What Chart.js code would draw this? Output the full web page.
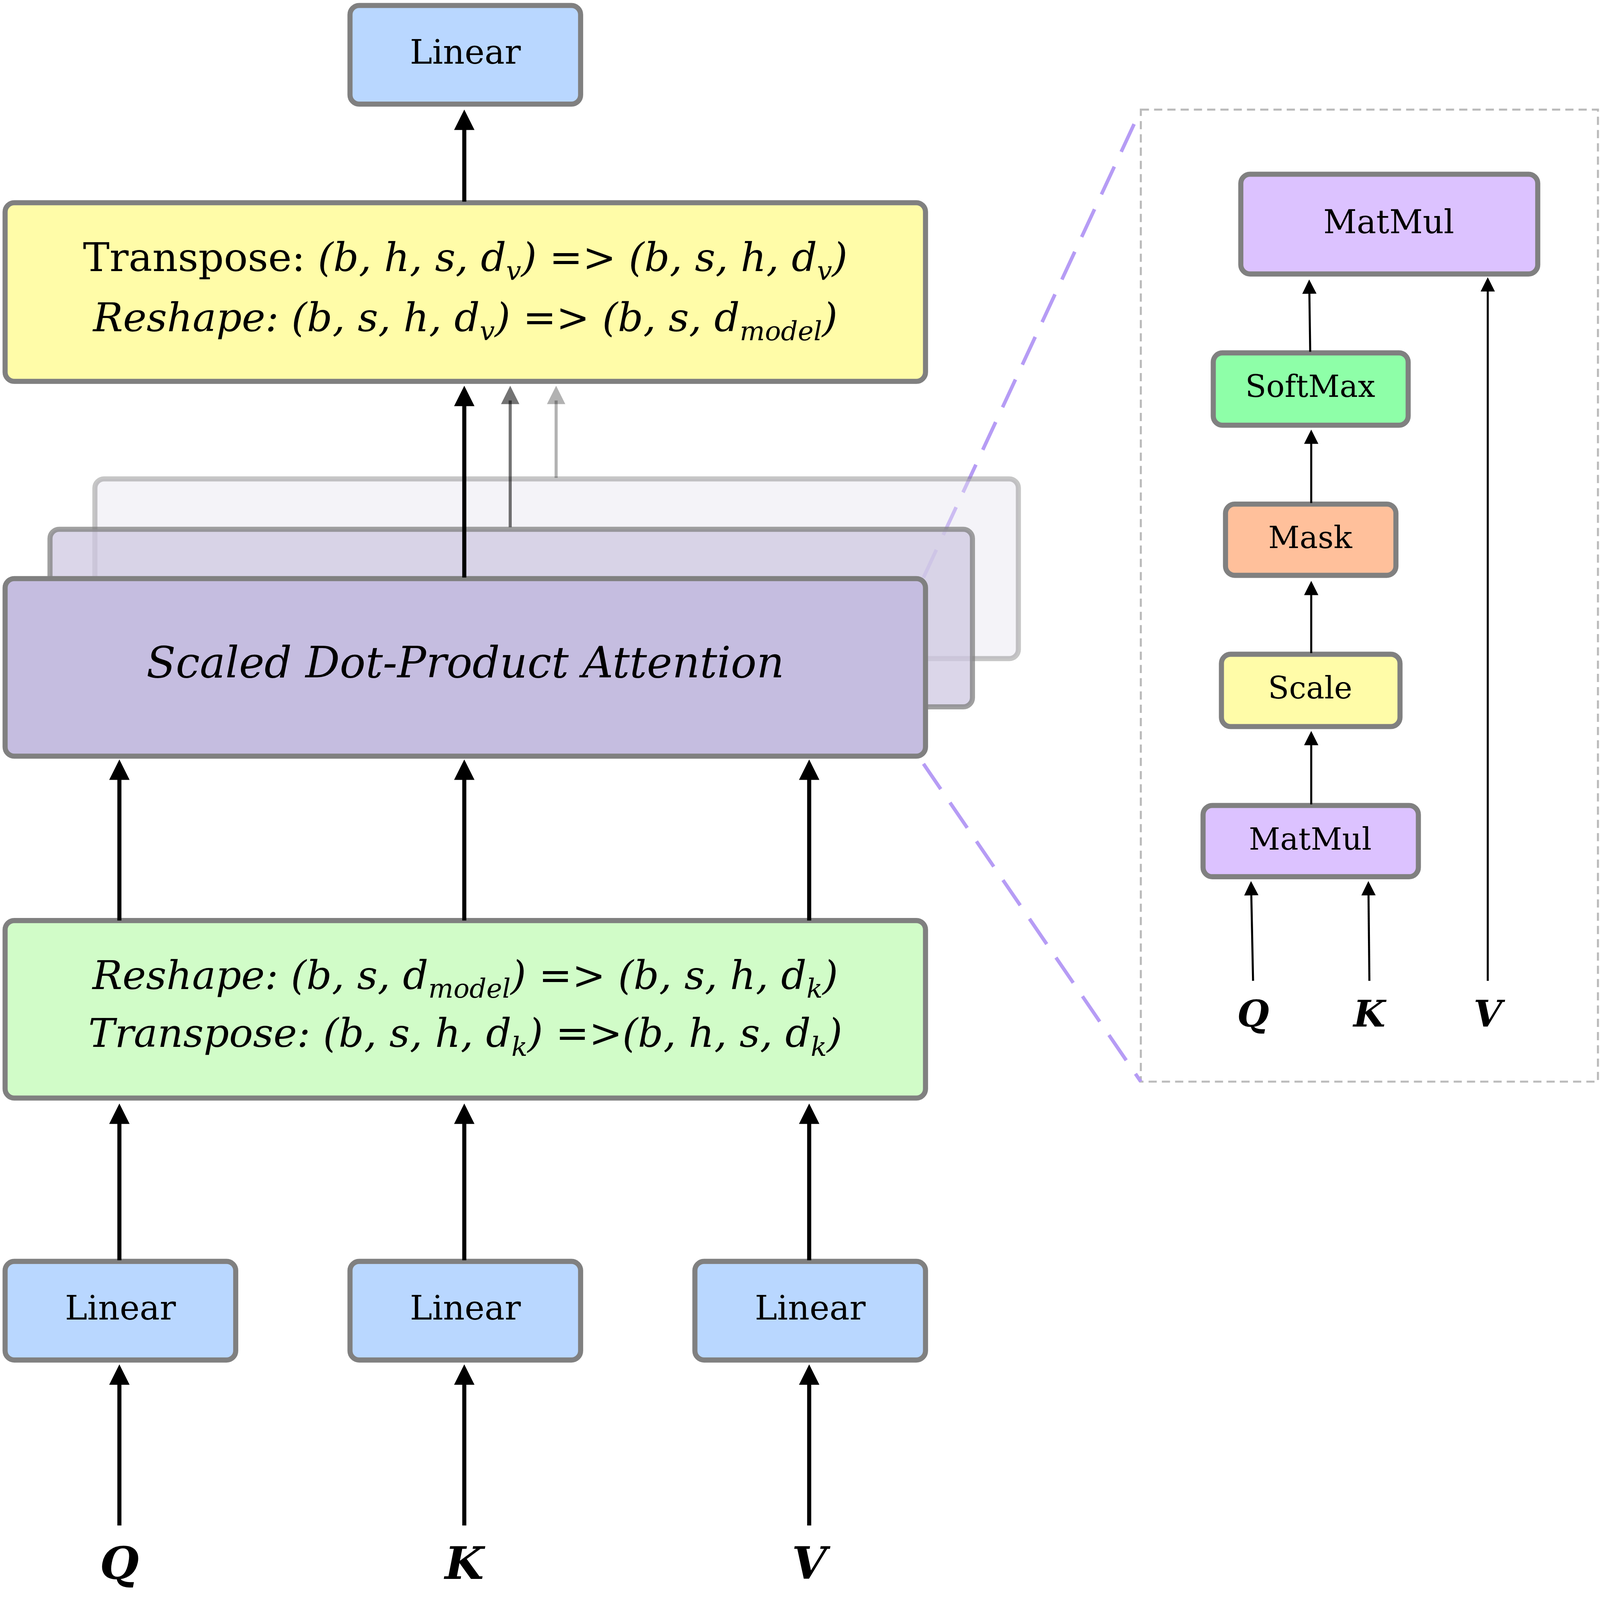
<!DOCTYPE html>
<html>
<head>
<meta charset="utf-8">
<script src="https://cdn.jsdelivr.net/npm/chart.js@4"></script>
<style>
  html, body { margin: 0; padding: 0; background: #fff; overflow: hidden; }
  #wrap { width: 100vw; height: 100vh; }
</style>
</head>
<body>
<div id="wrap"><canvas id="c"></canvas></div>
<script>
// Diagram space: 1568 x 1460 units, y grows downwards
const SPACE_W = 1568;
const SPACE_H = 1460;

// Boxes: [x0, y0, x1, y1, fill, border, borderAlpha]
const boxRects = [
    [93, 437, 998, 601, '#e6e4f0', '#808080', 0.45],
    [49, 483, 953, 645, '#cfc8e2', '#808080', 0.75],
    [5, 528, 907, 690, '#c5bde0', '#808080', 1],
    [343, 5, 569, 95, '#b9d7ff', '#808080', 1],
    [5, 185, 907, 348, '#fffca8', '#808080', 1],
    [5, 840, 907, 1002, '#d1fcc8', '#808080', 1],
    [5, 1151, 231, 1241, '#b9d7ff', '#808080', 1],
    [343, 1151, 569, 1241, '#b9d7ff', '#808080', 1],
    [681, 1151, 907, 1241, '#b9d7ff', '#808080', 1],
    [1216, 159, 1507, 250, '#dcc2ff', '#808080', 1],
    [1189, 322, 1380, 388, '#8effa8', '#808080', 1],
    [1201, 460, 1368, 525, '#ffc09b', '#808080', 1],
    [1197, 597, 1372, 663, '#fffca8', '#808080', 1],
    [1179, 735, 1390, 800, '#dcc2ff', '#808080', 1]
];

// Plain labels: [text, x, y, size, style]
const plainLabels = [
    ['Linear', 456, 50, 33, ''],
    ['Linear', 118, 1196, 33, ''],
    ['Linear', 456, 1196, 33, ''],
    ['Linear', 794, 1196, 33, ''],
    ['Scaled Dot-Product Attention', 456, 608, 42, 'italic'],
    ['MatMul', 1361, 205, 32, ''],
    ['SoftMax', 1284, 355, 30, ''],
    ['Mask', 1284, 493, 30, ''],
    ['Scale', 1284, 630, 30, ''],
    ['MatMul', 1284, 768, 30, ''],
    ['Q', 117, 1430, 44, 'italic bold'],
    ['K', 455, 1430, 44, 'italic bold'],
    ['V', 793, 1430, 44, 'italic bold'],
    ['Q', 1228, 928, 36, 'italic bold'],
    ['K', 1342, 928, 36, 'italic bold'],
    ['V', 1458, 928, 36, 'italic bold']
];

// Rich lines: segments [text, italic, subscript]
const richLines = [
    { x: 456, y: 238, segs: [['Transpose: ', 0, 0], ['(b, h, s, d', 1, 0], ['v', 1, 1], [') => (b, s, h, d', 1, 0], ['v', 1, 1], [')', 1, 0]] },
    { x: 456, y: 293, segs: [['Reshape: (b, s, h, d', 1, 0], ['v', 1, 1], [') => (b, s, d', 1, 0], ['model', 1, 1], [')', 1, 0]] },
    { x: 456, y: 893, segs: [['Reshape: (b, s, d', 1, 0], ['model', 1, 1], [') => (b, s, h, d', 1, 0], ['k', 1, 1], [')', 1, 0]] },
    { x: 456, y: 946, segs: [['Transpose: (b, s, h, d', 1, 0], ['k', 1, 1], [') =>(b, h, s, d', 1, 0], ['k', 1, 1], [')', 1, 0]] }
];

// Arrows: [x0, y0, x1, y1, width, colour, headSize]
const arrows = [
    [117, 1392, 117, 1245, 4, '#000', 20],
    [455, 1392, 455, 1245, 4, '#000', 20],
    [793, 1392, 793, 1245, 4, '#000', 20],
    [117, 1150, 117, 1007, 4, '#000', 20],
    [455, 1150, 455, 1007, 4, '#000', 20],
    [793, 1150, 793, 1007, 4, '#000', 20],
    [117, 840, 117, 693, 4, '#000', 20],
    [455, 840, 455, 693, 4, '#000', 20],
    [793, 840, 793, 693, 4, '#000', 20],
    [455, 527, 455, 352, 4, '#000', 20],
    [500, 481, 500, 352, 3, 'rgba(0,0,0,0.55)', 18],
    [545, 436, 545, 352, 3, 'rgba(0,0,0,0.3)', 18],
    [455, 184, 455, 100, 4, '#000', 20],
    [1284, 321, 1283, 255, 2, '#000', 14],
    [1285, 459, 1285, 392, 2, '#000', 14],
    [1285, 596, 1285, 530, 2, '#000', 14],
    [1285, 734, 1285, 667, 2, '#000', 14],
    [1228, 895, 1226, 804, 2, '#000', 14],
    [1342, 895, 1341, 804, 2, '#000', 14],
    [1458, 895, 1458, 253, 2, '#000', 14]
];

const zoomFrame = [1118, 100, 1568, 987];
const zoomLines = [[905, 527, 1118, 100], [905, 697, 1118, 987]];

const FONT = '"DejaVu Serif", "Liberation Serif", serif';

const diagramPlugin = {
    id: 'diagram',
    afterDraw(chart) {
        const ctx = chart.ctx;
        const xs = chart.scales.x, ys = chart.scales.y;
        const px = v => xs.getPixelForValue(v);
        const py = v => ys.getPixelForValue(v);
        const k = chart.width / SPACE_W;

        // zoom frame and guide lines
        ctx.save();
        ctx.setLineDash([8 * k, 5 * k]);
        ctx.strokeStyle = '#bbbbbb';
        ctx.lineWidth = 2 * k;
        ctx.strokeRect(px(zoomFrame[0]), py(zoomFrame[1]), px(zoomFrame[2]) - px(zoomFrame[0]) - 2 * k, py(zoomFrame[3]) - py(zoomFrame[1]));
        ctx.setLineDash([30 * k, 16 * k]);
        ctx.strokeStyle = '#b69cf5';
        ctx.lineWidth = 3.5 * k;
        zoomLines.forEach(l => {
            ctx.beginPath();
            ctx.moveTo(px(l[0]), py(l[1]));
            ctx.lineTo(px(l[2]), py(l[3]));
            ctx.stroke();
        });
        ctx.restore();

        // boxes
        boxRects.forEach(b => {
            const x = px(b[0]), y = py(b[1]);
            const w = px(b[2]) - x, h = py(b[3]) - y;
            ctx.save();
            ctx.globalAlpha = b[6];
            ctx.beginPath();
            ctx.roundRect(x, y, w, h, 9 * k);
            ctx.fillStyle = b[4];
            ctx.fill();
            ctx.lineWidth = 5 * k;
            ctx.strokeStyle = b[5];
            ctx.stroke();
            ctx.restore();
        });

        // arrows
        arrows.forEach(a => {
            const x0 = px(a[0]), y0 = py(a[1]), x1 = px(a[2]), y1 = py(a[3]);
            const hs = a[6] * k;
            const ang = Math.atan2(y1 - y0, x1 - x0);
            ctx.save();
            ctx.strokeStyle = a[5];
            ctx.fillStyle = a[5];
            ctx.lineWidth = a[4] * k;
            ctx.beginPath();
            ctx.moveTo(x0, y0);
            ctx.lineTo(x1 - Math.cos(ang) * hs * 0.8, y1 - Math.sin(ang) * hs * 0.8);
            ctx.stroke();
            ctx.beginPath();
            ctx.moveTo(x1, y1);
            ctx.lineTo(x1 - Math.cos(ang) * hs - Math.sin(ang) * hs * 0.5, y1 - Math.sin(ang) * hs + Math.cos(ang) * hs * 0.5);
            ctx.lineTo(x1 - Math.cos(ang) * hs + Math.sin(ang) * hs * 0.5, y1 - Math.sin(ang) * hs - Math.cos(ang) * hs * 0.5);
            ctx.closePath();
            ctx.fill();
            ctx.restore();
        });

        // plain labels
        ctx.save();
        ctx.fillStyle = '#000';
        ctx.textAlign = 'center';
        ctx.textBaseline = 'middle';
        plainLabels.forEach(l => {
            ctx.font = `${l[4]} ${l[3] * k}px ${FONT}`;
            ctx.fillText(l[0], px(l[1]), py(l[2]));
        });
        ctx.restore();

        // rich lines with subscripts
        const mainSize = 39 * k, subSize = 26 * k;
        const fontFor = s => `${s[1] ? 'italic ' : ''}${s[2] ? subSize : mainSize}px ${FONT}`;
        ctx.save();
        ctx.fillStyle = '#000';
        ctx.textAlign = 'left';
        ctx.textBaseline = 'middle';
        richLines.forEach(line => {
            let total = 0;
            line.segs.forEach(s => { ctx.font = fontFor(s); total += ctx.measureText(s[0]).width; });
            let x = px(line.x) - total / 2;
            const y = py(line.y);
            line.segs.forEach(s => {
                ctx.font = fontFor(s);
                ctx.fillText(s[0], x, s[2] ? y + 12 * k : y);
                x += ctx.measureText(s[0]).width;
            });
        });
        ctx.restore();
    }
};

new Chart(document.getElementById('c'), {
    type: 'scatter',
    data: { datasets: [{ data: [] }] },
    options: {
        responsive: true,
        maintainAspectRatio: false,
        animation: false,
        layout: { padding: 0 },
        plugins: { legend: { display: false }, tooltip: { enabled: false } },
        scales: {
            x: { type: 'linear', min: 0, max: SPACE_W, display: false },
            y: { type: 'linear', min: 0, max: SPACE_H, reverse: true, display: false }
        }
    },
    plugins: [diagramPlugin]
});
</script>
</body>
</html>
